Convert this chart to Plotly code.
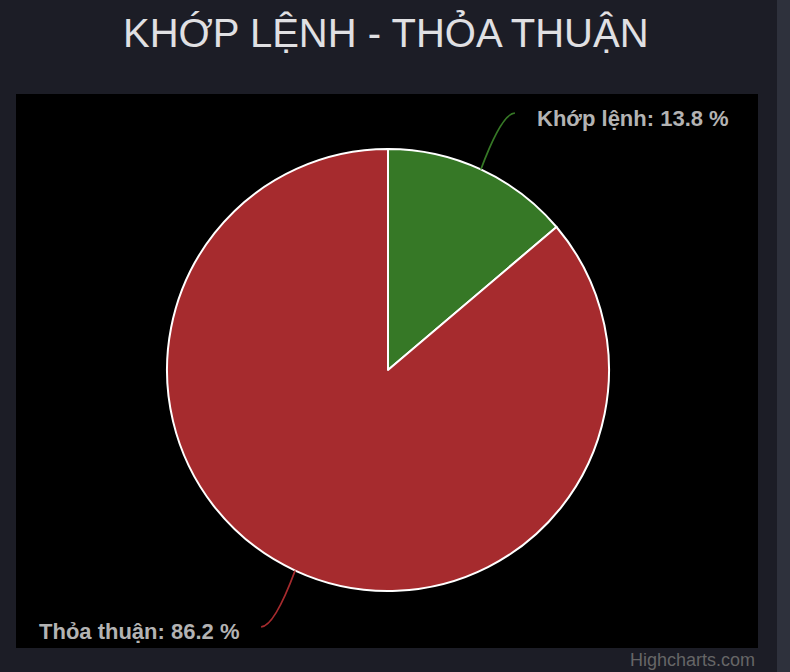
import math
import plotly.graph_objects as go

labels = ["Khớp lệnh", "Thỏa thuận"]
values = [13.8, 86.2]
colors = ["#367826", "#a62b2e"]

W, H = 790, 672
cx, cy, r = 388, 370, 221


def px(x):
    return x / W


def py(y):
    return 1 - y / H


fig = go.Figure()
fig.add_trace(go.Pie(
    labels=labels, values=values, sort=False, direction="clockwise", rotation=0,
    marker=dict(colors=colors, line=dict(color="white", width=2)),
    textinfo="none", hoverinfo="label+percent", showlegend=False,
    domain=dict(x=[px(cx - r), px(cx + r)], y=[py(cy + r), py(cy - r)]),
))

shapes = [
    dict(type="rect", xref="paper", yref="paper", x0=px(16), x1=px(758), y0=py(648), y1=py(94),
         fillcolor="#000000", line_width=0, layer="below"),
    dict(type="rect", xref="paper", yref="paper", x0=px(777), x1=1, y0=0, y1=1,
         fillcolor="#2e313c", line_width=0, layer="below"),
]
annotations = []

total = sum(values)
start = 0
for lab, val, col in zip(labels, values, colors):
    mid = (start + val / 2) / total * 2 * math.pi
    start += val
    sx, sy = cx + r * math.sin(mid), cy - r * math.cos(mid)
    side = 1 if math.sin(mid) >= 0 else -1
    ex = cx + (r + 62) * math.sin(mid) + 8 * side
    ey = cy - (r + 62) * math.cos(mid)
    qx, qy = ex - 13 * side, ey
    path = "M %f %f Q %f %f %f %f" % (px(sx), py(sy), px(qx), py(qy), px(ex), py(ey))
    shapes.append(dict(type="path", xref="paper", yref="paper", path=path,
                       line=dict(color=col, width=1.8)))
    annotations.append(dict(
        x=px(ex + 20 * side), y=py(ey + 5), xref="paper", yref="paper",
        xanchor="left" if side > 0 else "right", yanchor="middle", showarrow=False,
        text="<b>%s: %.1f %%</b>" % (lab, val / total * 100),
        font=dict(family="Liberation Sans, Arial", size=22, color="#b3b3b3"),
    ))

annotations.append(dict(
    x=px(386), y=py(32), xref="paper", yref="paper", xanchor="center", yanchor="middle",
    showarrow=False, text="KHỚP LỆNH - THỎA THUẬN",
    font=dict(family="Liberation Sans, Arial", size=40, color="#e0e0e3"),
))
annotations.append(dict(
    x=px(757), y=py(660), xref="paper", yref="paper", xanchor="right", yanchor="middle",
    showarrow=False, text="Highcharts.com",
    font=dict(family="Liberation Sans, Arial", size=18, color="#666666"),
))

fig.update_layout(
    width=W, height=H, margin=dict(l=0, r=0, t=0, b=0),
    paper_bgcolor="#1c1d26", plot_bgcolor="#1c1d26",
    shapes=shapes, annotations=annotations,
)
fig.write_html("out.html", config={"displayModeBar": False},
               post_script="document.body.style.margin='0';document.body.style.overflow='hidden';"
                           "document.body.style.background='#1c1d26';")
